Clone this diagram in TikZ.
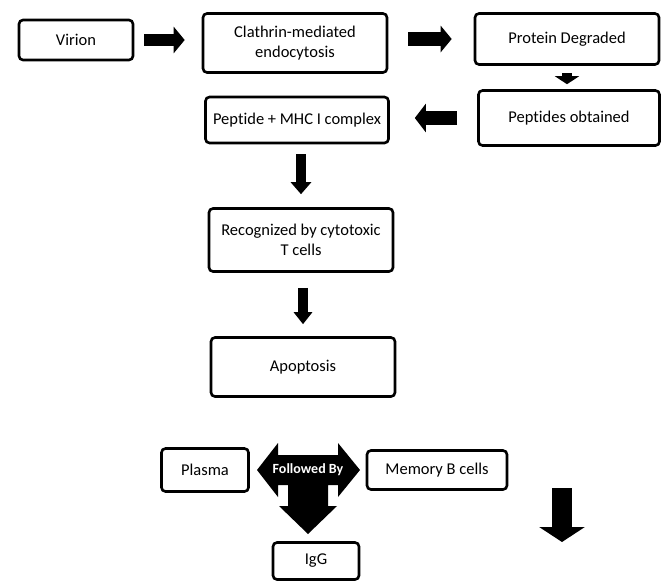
\documentclass[tikz,border=0pt]{standalone}
\usepackage{fontspec}
\setmainfont[Ligatures=NoCommon]{Carlito}
\usetikzlibrary{arrows.meta}

\begin{document}
\begin{tikzpicture}[x=1pt,y=-1pt]

    \tikzset{boxstyle/.style={draw,line width=2.6pt,rounded corners=4pt,align=center,
        inner sep=1pt,font=\fontsize{16.5}{20}\selectfont}}
    \tikzset{blockarrow/.style n args={3}{draw=black,line width=#1,-{Triangle[width=#2,length=#3]}}}
    \useasboundingbox (0,0) rectangle (669,582);

    \node[boxstyle,minimum width=114pt,minimum height=40pt] (virion) at ( 76, 40) {Virion};
    \node[boxstyle,minimum width=184pt,minimum height=59pt] (clathrin) at (295, 43) {Clathrin-mediated\\endocytosis};
    \node[boxstyle,minimum width=184pt,minimum height=51pt] (protein) at (567, 39) {Protein Degraded};
    \node[boxstyle,minimum width=181pt,minimum height=55pt] (peptides) at (569,118) {Peptides obtained};
    \node[boxstyle,minimum width=183pt,minimum height=46pt] (mhc) at (297,120) {Peptide + MHC I complex};
    \node[boxstyle,minimum width=184pt,minimum height=63pt] (recog) at (301,240) {Recognized by cytotoxic\\T cells};
    \node[boxstyle,minimum width=184pt,minimum height=59pt] (apop) at (303,367) {Apoptosis};
    \node[boxstyle,minimum width=87pt,minimum height=43pt] (plasma) at (205,470) {Plasma};
    \node[boxstyle,minimum width=140pt,minimum height=39pt] (memory) at (437,470) {Memory B cells};
    \node[boxstyle,minimum width=86pt,minimum height=37pt] (igg) at (316,561) {IgG};

    % three way arrow
    \fill (257,470) -- (278,443) -- (278,455) -- (338,455) -- (338,443) -- (360,470)
        -- (338,497) -- (338,485) -- (328,485) -- (328,506) -- (337,506) -- (308,534)
        -- (279,506) -- (288,506) -- (288,485) -- (278,485) -- (278,497) -- cycle;
    \node[text=white,font=\fontsize{14}{16}\selectfont\bfseries] (followed) at (308,470) {Followed By};

    \draw[blockarrow={12pt}{26pt}{11pt},shorten <=10pt,shorten >=17pt] (virion.east) -- (virion.east -| clathrin.west);
    \draw[blockarrow={14pt}{26pt}{11pt},shorten <=20pt,shorten >=22pt] (protein.west -| clathrin.east) -- (protein.west);
    \draw[blockarrow={10pt}{24pt}{8pt},shorten <=7pt,shorten >=5pt] (protein.south) -- (protein.south |- peptides.north);
    \draw[blockarrow={14pt}{28pt}{11pt},shorten <=20pt,shorten >=25pt] (peptides.west) -- (peptides.west -| mhc.east);
    \draw[blockarrow={10pt}{20pt}{12pt},shorten <=10pt,shorten >=13pt] (recog.north |- mhc.south) -- (recog.north);
    \draw[blockarrow={10pt}{18pt}{12pt},shorten <=15pt,shorten >=12pt] (apop.north |- recog.south) -- (apop.north);

    \coordinate (lonetop) at (562,488);
    \coordinate (lonetip) at (562,542);
    \draw[blockarrow={20pt}{45pt}{15pt}] (lonetop) -- (lonetip);

\end{tikzpicture}
\end{document}
